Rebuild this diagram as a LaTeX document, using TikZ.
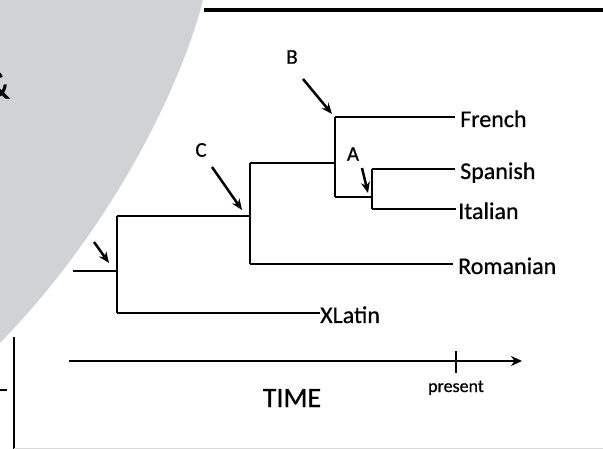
\documentclass[tikz,border=0pt]{standalone}
\usepackage{fontspec}
\setmainfont{Carlito}[FakeBold=0.6]
\usetikzlibrary{arrows.meta}
\definecolor{panel}{HTML}{D1D2D4}

\begin{document}
\begin{tikzpicture}[x=1pt,y=-1pt,
  branch/.style={line width=2.5pt},
  pointer/.style={line width=2.5pt,-{Stealth[length=11pt,width=9pt]}},
  leaf/.style={anchor=west,inner ysep=0pt,inner xsep=5pt,text height=20pt,text depth=0pt,
    font=\fontsize{24}{24}\selectfont},
  letter/.style={inner sep=0pt,font=\fontsize{21}{21}\selectfont}]

\useasboundingbox (0,0) rectangle (603,449);

% Grey panel in the corner
\fill[panel] (0,0) -- (203,0) .. controls (180,90) and (110,230) .. (0,343) -- cycle;
\node[anchor=east,inner sep=0pt,font=\fontsize{40}{40}\selectfont] (amp) at (10,85) {\&};

% Frame pieces
\draw[line width=3.5pt] (204,10) -- (603,10);
\draw[line width=2.2pt] (14,337) -- (14,449);
\draw[line width=2pt] (0,390) -- (7,390);
\draw[black!15,line width=1pt] (14,448) -- (603,448);

% Branch points
\coordinate (root) at (73,271);
\coordinate (R) at (117,271);
\coordinate (Rt) at (117,216);
\coordinate (Rb) at (117,313);
\coordinate (C) at (250,216);
\coordinate (Ct) at (250,163);
\coordinate (Cb) at (250,264);
\coordinate (B) at (335,163);
\coordinate (Bt) at (335,117);
\coordinate (Bb) at (335,197);
\coordinate (A) at (372,197);
\coordinate (At) at (372,169);
\coordinate (Ab) at (372,209);

% Languages
\node[leaf] (french) at (455,117) {French};
\node[leaf] (spanish) at (455,169) {Spanish};
\node[leaf,inner xsep=2pt] (italian) at (456,209) {Italian};
\node[leaf] (romanian) at (453,264) {Romanian};
\node[leaf,inner xsep=0pt] (latin) at (320,313) {XLatin};

% Tree
\draw[branch] (root) -- (R);
\draw[branch] (Rt) -- (Rb);
\draw[branch] (Rt) -- (C);
\draw[branch] (Rb) -- (latin.west);
\draw[branch] (Ct) -- (Cb);
\draw[branch] (Ct) -- (B);
\draw[branch] (Cb) -- (romanian.west);
\draw[branch] (Bt) -- (Bb);
\draw[branch] (Bt) -- (french.west);
\draw[branch] (Bb) -- (A);
\draw[branch] (At) -- (Ab);
\draw[branch] (At) -- (spanish.west);
\draw[branch] (Ab) -- (italian.west);

% Pointers to the splits
\node[letter] (labB) at (292,57) {B};
\node[letter] (labC) at (201,150) {C};
\node[letter] (labA) at (353,154) {A};
\coordinate (pB) at (303,79);
\coordinate (pC) at (212,167);
\coordinate (pA) at (362,168);
\coordinate (pR) at (94,242);
\draw[pointer] (pB) -- (332,114);
\draw[pointer] (pC) -- (242,210);
\draw[pointer] (pA) -- (368,193);
\draw[pointer] (pR) -- (109,263);

% Time axis
\coordinate (t0) at (69,361);
\coordinate (t1) at (522,361);
\coordinate (now) at (456,361);
\draw[line width=2.5pt,-{Stealth[length=11pt,width=10pt]}] (t0) -- (t1);
\draw[line width=2pt] ([yshift=-12pt]now) -- ([yshift=10pt]now);
\node[anchor=base,inner sep=0pt,font=\fontsize{18}{18}\selectfont] (present) at (456,392) {present};
\node[anchor=base,inner sep=0pt,font=\fontsize{28}{28}\selectfont] (time) at (292,407) {TIME};

\end{tikzpicture}
\end{document}
